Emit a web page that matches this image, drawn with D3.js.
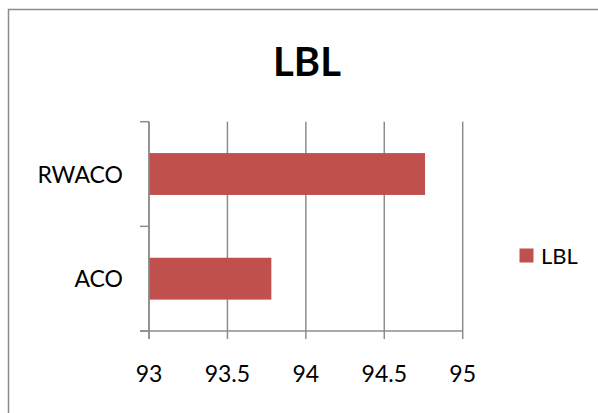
<!DOCTYPE html>
<html><head><meta charset="utf-8">
<script src="https://cdn.jsdelivr.net/npm/d3@7"></script>
<style>body{margin:0;background:#fff}svg{display:block}text{font-family:Lato,"Open Sans",sans-serif}</style>
</head><body><svg id="c" width="598" height="413"></svg>
<script>
const title = "LBL";
const categories = ["RWACO", "ACO"];
const values = [94.76, 93.78];
const xTicks = [93, 93.5, 94, 94.5, 95];
const seriesName = "LBL";

const svg = d3.select("#c");
svg.append("rect").attr("x", 0).attr("y", 0).attr("width", 598).attr("height", 413).attr("fill", "#fff");
svg.append("rect").attr("x", 8.5).attr("y", 9.5).attr("width", 620).attr("height", 430)
  .attr("fill", "none").attr("stroke", "#8c8c8c").attr("stroke-width", 1.5);

const L = 149, R = 462.7, T = 121.7, B = 331;
const x = d3.scaleLinear().domain([93, 95]).range([L, R]);
const y = d3.scaleBand().domain(categories).range([T, B]).paddingInner(0.6).paddingOuter(0.3);

// gridlines
svg.append("g").selectAll("line").data(xTicks).join("line")
  .attr("x1", d => x(d)).attr("x2", d => x(d)).attr("y1", T).attr("y2", B + 8)
  .attr("stroke", "#8c8c8c").attr("stroke-width", 1.5);

// bars
svg.append("g").selectAll("rect").data(categories).join("rect")
  .attr("x", x(93)).attr("y", d => y(d)).attr("height", y.bandwidth())
  .attr("width", (d, i) => x(values[i]) - x(93)).attr("fill", "#C0504D");

// y axis line and ticks
svg.append("line").attr("x1", L).attr("x2", L).attr("y1", T).attr("y2", B + 8)
  .attr("stroke", "#8c8c8c").attr("stroke-width", 1.5);
const bounds = d3.range(categories.length + 1).map(i => T + (B - T) * i / categories.length);
svg.append("g").selectAll("line").data(bounds).join("line")
  .attr("x1", L - 9).attr("x2", L).attr("y1", d => d).attr("y2", d => d)
  .attr("stroke", "#8c8c8c").attr("stroke-width", 1.5);
// x axis line
svg.append("line").attr("x1", L - 9).attr("x2", R).attr("y1", B).attr("y2", B)
  .attr("stroke", "#8c8c8c").attr("stroke-width", 1.5);

// category labels
svg.append("g").selectAll("text").data(categories).join("text")
  .attr("x", 123).attr("y", d => y(d) + y.bandwidth() / 2 + 8.5)
  .attr("text-anchor", "end").attr("font-size", 23).attr("fill", "#000").text(d => d);

// x tick labels
svg.append("g").selectAll("text").data(xTicks).join("text")
  .attr("x", d => x(d)).attr("y", 382).attr("text-anchor", "middle")
  .attr("font-size", 23).attr("fill", "#000").text(d => d);

// title
svg.append("text").attr("x", 307).attr("y", 76).attr("text-anchor", "middle")
  .attr("font-size", 40).attr("font-weight", "bold").attr("fill", "#000").text(title);

// legend
svg.append("rect").attr("x", 519.5).attr("y", 248.5).attr("width", 14).attr("height", 14).attr("fill", "#C0504D");
svg.append("text").attr("x", 541).attr("y", 263.5).attr("font-size", 22).attr("fill", "#000").text(seriesName);
</script></body></html>
